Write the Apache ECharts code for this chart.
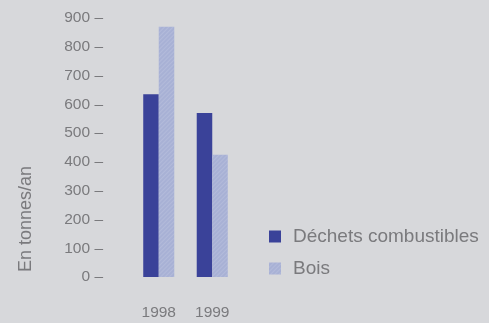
<!DOCTYPE html>
<html>
<head>
<meta charset="utf-8">
<script src="https://cdn.jsdelivr.net/npm/echarts@6/dist/echarts.min.js"></script>
<style>
  html, body { margin: 0; padding: 0; background: #d7d8db; }
  #chart { width: 489px; height: 323px; }
</style>
</head>
<body>
<div id="chart"></div>
<script>
// Annual tonnage by category
const years = ['1998', '1999'];
const dechets = [635, 570];
const bois = [870, 425];
const yTicks = { min: 0, max: 900, step: 100 };
const seriesNames = ['Déchets combustibles', 'Bois'];
const yName = 'En tonnes/an';

const FONT = '"Liberation Sans", Arial, Helvetica, sans-serif';
const GREY = '#7a7a7d';

const chart = echarts.init(document.getElementById('chart'));
chart.setOption({
  backgroundColor: '#d7d8db',
  animation: false,
  grid: { left: 132, right: 250, top: 18, bottom: 46 },
  legend: {
    orient: 'vertical',
    left: 269,
    top: 227,
    padding: 0,
    itemWidth: 12,
    itemHeight: 12,
    itemGap: 13,
    icon: 'rect',
    textStyle: { fontFamily: FONT, fontSize: 19, color: GREY, padding: [0, 0, 0, 7] },
    data: seriesNames
  },
  xAxis: {
    type: 'category',
    data: years,
    axisLine: { show: false },
    axisTick: { show: false },
    axisLabel: { margin: 28, fontFamily: FONT, fontSize: 15.5, color: GREY }
  },
  yAxis: {
    type: 'value',
    min: yTicks.min,
    max: yTicks.max,
    interval: yTicks.step,
    axisLine: { show: false },
    axisTick: { show: false },
    splitLine: { show: false },
    axisLabel: {
      margin: 29,
      fontFamily: FONT,
      fontSize: 15.5,
      color: GREY,
      formatter: v => v + ' –'
    }
  },
  graphic: [{
    type: 'text',
    x: 26,
    y: 219,
    rotation: Math.PI / 2,
    style: {
      text: yName,
      fontFamily: FONT,
      fontSize: 18,
      fill: GREY,
      align: 'center',
      verticalAlign: 'middle'
    }
  }],
  series: [
    {
      name: seriesNames[0],
      type: 'bar',
      data: dechets,
      barGap: '0%',
      barCategoryGap: '42%',
      itemStyle: { color: '#3a4299' }
    },
    {
      name: seriesNames[1],
      type: 'bar',
      data: bois,
      itemStyle: {
        color: '#a8b1d5',
        decal: {
          symbol: 'rect',
          color: 'rgba(255,255,255,0.12)',
          dashArrayX: [1, 0],
          dashArrayY: [1, 2],
          rotation: -Math.PI / 4
        }
      }
    }
  ]
});
</script>
</body>
</html>
